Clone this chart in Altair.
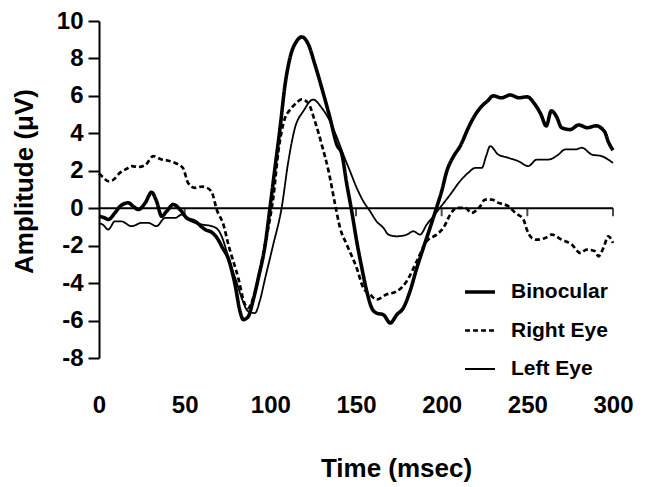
import altair as alt
import pandas as pd

# ---- data ----
bin_t = [0, 3, 5.4, 9.3, 12.3, 17, 20, 23, 27, 30.7, 33.6, 36.6, 39.5, 43.4, 47.3, 51.2, 56, 62, 66, 69,
         72, 75.5, 79.4, 82.3, 84.2, 87, 90, 93, 97, 99.8, 102.7, 105.7, 108.6, 111.5, 115.4, 118.3,
         122.2, 126, 130, 134.8, 138.8, 141.7, 144.6, 147.5, 150.4, 153.4, 156.3, 159.2, 162, 166, 170,
         173.8, 177.6, 181.5, 185.5, 189.3, 193.2, 197, 200, 203, 207, 210.7, 215.6, 219, 223.4, 227,
         230, 235, 240, 245, 250, 254, 258, 261, 264, 267, 270, 275, 280, 285, 290, 295, 297.5, 300]
bin_v = [-0.43, -0.5, -0.6, -0.25, 0.1, 0.29, 0.1, -0.07, 0.29, 0.85, 0.37, -0.43, -0.16, 0.2, -0.07,
         -0.52, -0.7, -1.14, -1.3, -1.6, -2.1, -2.7, -4.08, -5.5, -5.95, -5.8, -4.9, -3.73, -1.94, 0.02,
         2.15, 4.3, 6.6, 8.04, 8.93, 9.15, 8.75, 7.68, 6.43, 4.83, 3.4, 2.9, 1.3, -0.16, -1.76, -3.19,
         -4.44, -5.33, -5.6, -5.69, -6.13, -5.69, -5.33, -4.44, -3.19, -2.12, -1.05, 0.02, 0.91, 1.98,
         2.78, 3.3, 4.3, 4.9, 5.45, 5.75, 6.0, 5.9, 6.05, 5.9, 5.95, 5.6, 5.0, 4.4, 5.2, 4.9, 4.3, 4.2,
         4.45, 4.3, 4.4, 4.1, 3.5, 3.1]

right_t = [0, 3, 5.4, 8, 12.3, 16, 19, 23, 27, 31.7, 36.6, 40, 44.4, 49, 52, 56, 60, 63, 66, 68.7, 72.6,
           75.5, 81.3, 85, 87, 90, 93, 96, 98.8, 101.7, 104.7, 108.6, 111, 114.4, 118.3, 122, 126, 130,
           134, 137.8, 140.7, 144.6, 150.4, 154.3, 158.2, 162, 168, 173.8, 179.6, 185.5, 191.3, 197, 201,
           205, 208.8, 213.7, 217.5, 222.4, 225.3, 229.2, 233, 239, 243, 247.7, 249.7, 252.6, 255.5,
           260.4, 264.3, 270, 276, 280.8, 284.7, 289.5, 291.5, 294.4, 297.3, 300]
right_v = [1.85, 1.6, 1.44, 1.5, 1.9, 2.1, 2.25, 2.2, 2.3, 2.78, 2.6, 2.55, 2.42, 2.15, 1.35, 1.09, 1.15,
           1.09, 0.82, -0.07, -0.87, -1.94, -3.73, -5.1, -5.33, -4.8, -3.73, -2.4, -1.05, 0.55, 3.05,
           4.83, 5.2, 5.55, 5.81, 5.63, 4.65, 3.4, 1.98, 0.2, -1.05, -1.94, -3.19, -4.26, -4.6, -4.88,
           -4.6, -4.44, -3.9, -2.83, -1.76, -1.41, -1.05, -0.34, 0.02, 0.02, -0.25, 0.1, 0.46, 0.46,
           0.29, 0.1, -0.25, -0.6, -1.14, -1.59, -1.68, -1.59, -1.41, -1.68, -1.94, -2.39, -2.21, -2.3,
           -2.57, -2.12, -1.5, -1.86]

left_t = [0, 2.5, 5.4, 9.3, 13, 19, 25, 28.8, 33.6, 38.5, 44.4, 48.3, 54, 60, 65.8, 69, 71.6, 74.5, 77.5,
          80.5, 83.3, 87, 91, 94, 97, 101.7, 106.6, 110.5, 114.4, 119.3, 125, 130, 134.8, 139.7, 142.6,
          146.5, 150.4, 154.3, 158.2, 162, 166, 169, 173.8, 179.6, 183.5, 187.4, 191.3, 195.2, 199, 205,
          210.7, 215.6, 219.5, 223.4, 226, 228.3, 233, 239, 244.8, 250.6, 255.5, 262.3, 268.2, 272, 278,
          281.8, 287.6, 293.4, 300]
left_v = [-0.78, -0.9, -1.14, -0.7, -0.7, -0.96, -0.78, -0.78, -0.96, -0.52, -0.52, -0.34, -0.7, -0.87,
          -0.96, -1.1, -1.5, -2.3, -3.19, -4.0, -4.8, -5.5, -5.6, -4.9, -3.73, -1.94, 0.02, 2.5, 4.3,
          5.19, 5.8, 5.36, 4.65, 3.58, 2.87, 1.98, 1.09, 0.37, -0.16, -0.7, -1.05, -1.41, -1.5, -1.41,
          -1.23, -1.41, -0.87, -0.43, 0.02, 0.73, 1.44, 1.9, 2.15, 2.15, 2.8, 3.32, 2.87, 2.69, 2.51,
          2.25, 2.6, 2.6, 2.87, 3.14, 3.14, 3.23, 2.87, 2.78, 2.42]

series = ["Binocular", "Right Eye", "Left Eye"]
x_ticks = [0, 50, 100, 150, 200, 250, 300]
y_ticks = [-8, -6, -4, -2, 0, 2, 4, 6, 8, 10]
zero_ticks = [50, 100, 150, 200, 250, 300]

frames = []
for name, t, v in [("Binocular", bin_t, bin_v), ("Right Eye", right_t, right_v), ("Left Eye", left_t, left_v)]:
    frames.append(pd.DataFrame({"t": t, "v": v, "series": name}))
df = pd.concat(frames, ignore_index=True)

FONT = "Liberation Sans"

xscale = alt.Scale(domain=[0, 300], nice=False, zero=False)
yscale = alt.Scale(domain=[-8, 10], nice=False, zero=False)

xaxis = alt.Axis(
    values=x_ticks, title="Time (msec)", domain=False, ticks=False, grid=False,
    labelPadding=35, labelFontSize=24, labelFont=FONT, labelFontWeight="bold",
    labelFlush=False, labelOverlap=False,
    titleFontSize=26, titleFont=FONT, titleFontWeight="bold", titleX=297, titleY=118,
    titleBaseline="alphabetic", titleAlign="center", labelColor="black", titleColor="black")
yaxis = alt.Axis(
    values=y_ticks, title="Amplitude (\u03bcV)", domain=True, ticks=True, grid=False,
    tickSize=11, tickWidth=2, domainWidth=2, domainColor="black", tickColor="black",
    labelPadding=5, labelFontSize=24, labelFont=FONT, labelFontWeight="bold",
    labelOverlap=False, labelFlush=False, labelExpr="'' + datum.value",
    titleFontSize=26, titleFont=FONT, titleFontWeight="bold", titleX=-67, titleY=160,
    titleAngle=270, titleBaseline="alphabetic", titleAlign="center",
    labelColor="black", titleColor="black")

legend = alt.Legend(
    title=None, orient="none", legendX=364, legendY=254, symbolType="stroke",
    symbolSize=900, symbolStrokeColor="black", labelFontSize=21, labelFont=FONT,
    labelFontWeight="bold", labelOffset=14, rowPadding=12, padding=0, labelColor="black",
)

lines = alt.Chart(df).mark_line(color="black", interpolate="monotone").encode(
    x=alt.X("t:Q", scale=xscale, axis=xaxis),
    y=alt.Y("v:Q", scale=yscale, axis=yaxis),
    strokeWidth=alt.StrokeWidth("series:N", scale=alt.Scale(domain=series, range=[3.6, 1.8, 1.7]),
                                legend=legend),
    strokeDash=alt.StrokeDash("series:N", scale=alt.Scale(domain=series, range=[[1, 0], [5, 3], [1, 0]]),
                              legend=legend),
)

zero = alt.Chart(pd.DataFrame({"v": [0]})).mark_rule(color="black", strokeWidth=2).encode(
    y=alt.Y("v:Q", scale=yscale, axis=yaxis))

ticks = alt.Chart(pd.DataFrame({"t": zero_ticks, "v": [0] * len(zero_ticks)})).mark_tick(
    orient="vertical", size=8, yOffset=4, thickness=2, color="black").encode(
    x=alt.X("t:Q", scale=xscale, axis=xaxis), y=alt.Y("v:Q", scale=yscale, axis=yaxis))

chart = alt.layer(lines, zero, ticks).properties(
    width=514, height=337,
    autosize=alt.AutoSizeParams(type="none"),
    padding={"left": 91, "top": 13, "right": 36, "bottom": 129},
).configure(background="white").configure_view(strokeWidth=0)

chart.save("out.html", embed_options={"renderer": "svg", "actions": False})
